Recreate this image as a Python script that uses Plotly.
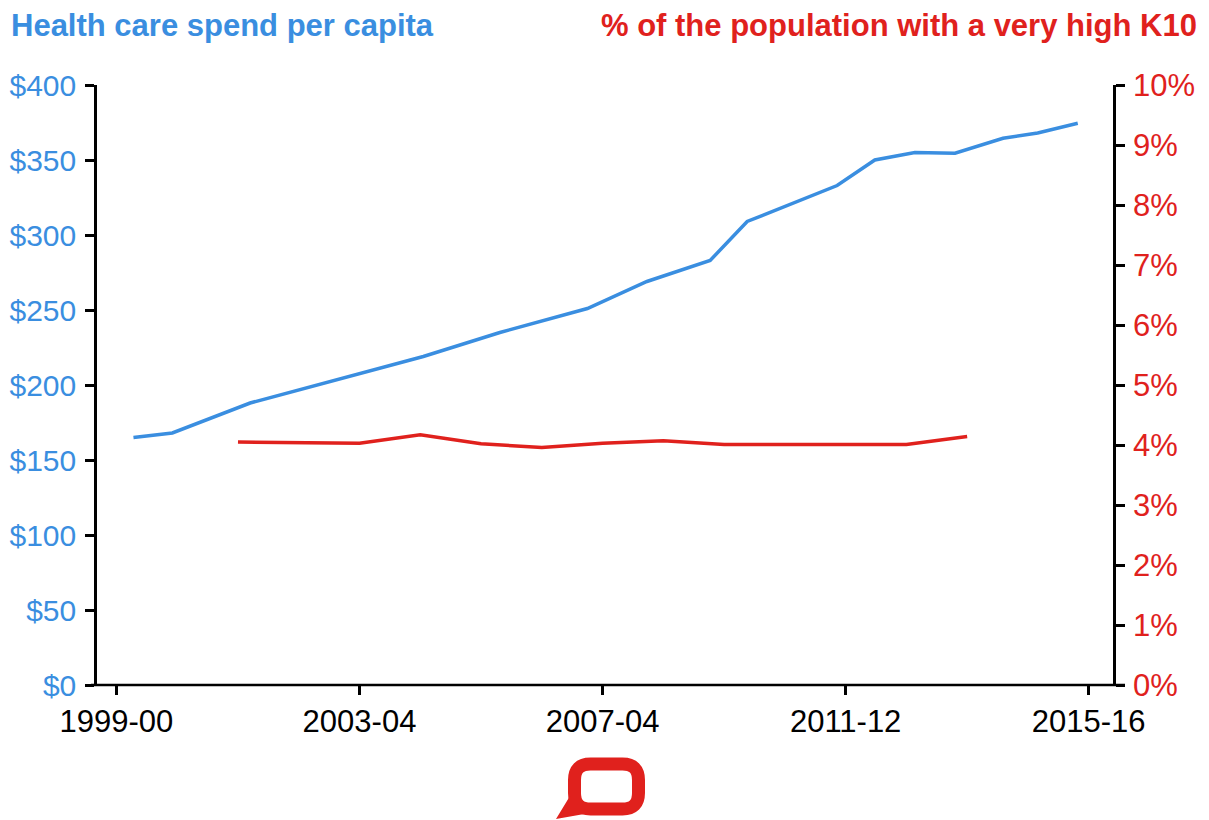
import plotly.graph_objects as go

# ---------------- data ----------------
tick_years = [1999, 2003, 2007, 2011, 2015]
tick_labels = ["1999-00", "2003-04", "2007-04", "2011-12", "2015-16"]

spend_x = [1999.28, 1999.92, 2001.20, 2002.70, 2004.05, 2005.31, 2006.75, 2007.73,
           2008.77, 2009.38, 2010.86, 2011.48, 2012.14, 2012.80, 2013.59, 2014.16, 2014.82]
spend_per_capita = [165, 168, 188, 204, 219, 235, 251, 269,
                    283, 309, 333, 350, 355, 354.5, 364.5, 368, 374.5]

k10_x = [2001, 2002, 2003, 2004, 2005, 2006, 2007, 2008, 2009, 2010, 2011, 2012, 2013]
k10_pct = [4.05, 4.04, 4.03, 4.17, 4.02, 3.96, 4.03, 4.07, 4.01, 4.01, 4.01, 4.01, 4.14]

BLUE = "#3a8ee0"
RED = "#e0211d"
FONT = "Liberation Sans, Arial, sans-serif"

W, H = 1209, 820
L, R, T, B = 97, 1113, 85, 685


def P(x, y):
    """pixel -> paper coordinates (for decorations only)"""
    return (x - L) / (R - L), (B - y) / (B - T)


fig = go.Figure()
fig.add_trace(go.Scatter(x=spend_x, y=spend_per_capita, mode="lines",
                         line=dict(color=BLUE, width=3.5), yaxis="y"))
fig.add_trace(go.Scatter(x=k10_x, y=k10_pct, mode="lines",
                         line=dict(color=RED, width=3.5), yaxis="y2"))

fig.update_layout(
    template="none",
    width=W, height=H,
    margin=dict(l=L, r=W - R, t=T, b=H - B, pad=0),
    paper_bgcolor="white", plot_bgcolor="white",
    showlegend=False,
    font=dict(family=FONT),
    xaxis=dict(range=[1998.68, 2015.40], tickvals=tick_years, ticktext=tick_labels,
               showgrid=False, zeroline=False, showline=False, automargin=False,
               ticks="outside", ticklen=9, tickwidth=2.5, tickcolor="black",
               tickfont=dict(size=31, color="black"), ticklabelstandoff=0),
    yaxis=dict(range=[0, 400], dtick=50, tickprefix="$",
               showgrid=False, zeroline=False, showline=True, automargin=False,
               linecolor="black", linewidth=2.5,
               ticks="outside", ticklen=9, tickwidth=2.5, tickcolor="black",
               tickfont=dict(size=30, color=BLUE), ticklabelstandoff=3),
    yaxis2=dict(range=[0, 10], dtick=1, ticksuffix="%", overlaying="y", side="right",
                showgrid=False, zeroline=False, showline=True, automargin=False,
                linecolor="black", linewidth=2.5,
                ticks="outside", ticklen=9, tickwidth=2.5, tickcolor="black",
                tickfont=dict(size=31, color=RED), ticklabelstandoff=2),
)

# titles
x0, y0 = P(9, 26)
fig.add_annotation(text="<b>Health care spend per capita</b>", xref="paper", yref="paper",
                   x=x0, y=y0, xanchor="left", yanchor="middle", showarrow=False,
                   font=dict(size=31, color=BLUE, family=FONT))
x1, y1 = P(1199, 26)
fig.add_annotation(text="<b>% of the population with a very high K10</b>", xref="paper", yref="paper",
                   x=x1, y=y1, xanchor="right", yanchor="middle", showarrow=False,
                   font=dict(size=31, color=RED, family=FONT))

# bottom axis line (extends a little past both vertical axes)
ax0, ay = P(91, B)
ax1, _ = P(1125, B)
fig.add_shape(type="line", xref="paper", yref="paper", x0=ax0, x1=ax1, y0=ay, y1=ay,
              line=dict(color="black", width=2.5))


# logo: speech bubble
def rrect(l, t, r, b, rad):
    def p(x, y):
        px, py = P(x, y)
        return f"{px:.5f},{py:.5f}"
    return (f"M {p(l + rad, t)} L {p(r - rad, t)} Q {p(r, t)} {p(r, t + rad)} "
            f"L {p(r, b - rad)} Q {p(r, b)} {p(r - rad, b)} L {p(l + rad, b)} "
            f"Q {p(l, b)} {p(l, b - rad)} L {p(l, t + rad)} Q {p(l, t)} {p(l + rad, t)} Z")


fig.add_shape(type="path", xref="paper", yref="paper",
              path=rrect(574.5, 764, 638.5, 809, 16),
              line=dict(color=RED, width=13), fillcolor="rgba(0,0,0,0)")


def poly(pts):
    s = []
    for i, (x, y) in enumerate(pts):
        px, py = P(x, y)
        s.append(("M " if i == 0 else "L ") + f"{px:.5f},{py:.5f}")
    return " ".join(s) + " Z"


fig.add_shape(type="path", xref="paper", yref="paper",
              path=poly([(570, 796), (556, 819), (590, 813), (578, 805)]),
              line=dict(color=RED, width=0), fillcolor=RED)

fig.write_html("out.html", config={"displayModeBar": False},
               post_script="document.body.style.margin='0';document.body.style.overflow='hidden';")
